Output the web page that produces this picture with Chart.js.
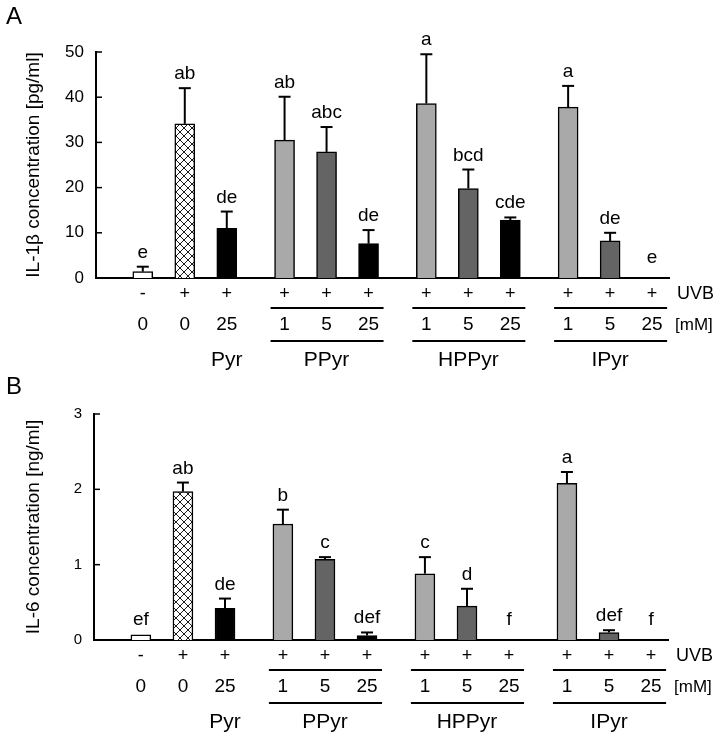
<!DOCTYPE html>
<html>
<head>
<meta charset="utf-8">
<script src="https://cdn.jsdelivr.net/npm/chart.js@4.4.1/dist/chart.umd.min.js"></script>
<style>
  html, body { margin: 0; padding: 0; background: #fff; }
  .panel { position: relative; width: 719px; height: 370px; }
</style>
</head>
<body>
<div class="panel"><canvas id="chartA"></canvas></div>
<div class="panel"><canvas id="chartB"></canvas></div>
<script>
// treatment rows under the axis
const uvb = ["-", "+", "+", "+", "+", "+", "+", "+", "+", "+", "+", "+"];
const doses = ["0", "0", "25", "1", "5", "25", "1", "5", "25", "1", "5", "25"];
const groupNames = ["Pyr", "PPyr", "HPPyr", "IPyr"];
const groupFirst = [2, 3, 6, 9];
const groupLast = [2, 5, 8, 11];

// panel A: IL-1beta (pg/ml)
const il1bMean = [1.4, 34.1, 11.0, 30.5, 27.9, 7.6, 38.6, 19.8, 12.8, 37.8, 8.2, 0];
const il1bSem = [1.1, 7.9, 3.7, 9.6, 5.5, 3.0, 10.9, 4.2, 0.6, 4.7, 1.8, 0];
const il1bLetters = ["e", "ab", "de", "ab", "abc", "de", "a", "bcd", "cde", "a", "de", "e"];
const il1bTicks = [0, 10, 20, 30, 40, 50];

// panel B: IL-6 (ng/ml)
const il6Mean = [0.07, 1.97, 0.42, 1.54, 1.07, 0.06, 0.88, 0.45, 0, 2.08, 0.10, 0];
const il6Sem = [0, 0.12, 0.13, 0.19, 0.03, 0.04, 0.22, 0.23, 0, 0.15, 0.03, 0];
const il6Letters = ["ef", "ab", "de", "b", "c", "def", "c", "d", "f", "a", "def", "f"];
const il6Ticks = [0, 1, 2, 3];

const FONT = "Arial, 'Liberation Sans', sans-serif";
const GROUP_GAP = 1.376; // extra space between treatment groups, in bar steps
Chart.defaults.font.family = FONT;
Chart.defaults.color = "#000";

const barPos = (i) => Math.floor(i / 3) * (2 + GROUP_GAP) + (i % 3);

function crossHatch() {
    const c = document.createElement("canvas");
    c.width = 8;
    c.height = 8;
    const g = c.getContext("2d");
    g.fillStyle = "#fff";
    g.fillRect(0, 0, 8, 8);
    g.strokeStyle = "#000";
    g.lineWidth = 0.9;
    g.beginPath();
    g.moveTo(0, 0); g.lineTo(8, 8);
    g.moveTo(8, 0); g.lineTo(0, 8);
    g.stroke();
    return g.createPattern(c, "repeat");
}

const LIGHT = "#a9a9a9";
const DARK = "#646464";
const barColors = ["#ffffff", crossHatch(), "#000000", LIGHT, DARK, "#000000",
    LIGHT, DARK, "#000000", LIGHT, DARK, "#000000"];

// error bars, letters, inward ticks and the treatment table below the axis
const decor = {
    id: "decor",
    afterDraw(chart, args, o) {
        const { ctx, chartArea } = chart;
        const xs = chart.scales.x;
        const ys = chart.scales.y;
        const meta = chart.getDatasetMeta(0);
        const axisY = chartArea.bottom;
        const line = (x1, y1, x2, y2) => {
            ctx.beginPath();
            ctx.moveTo(x1, y1);
            ctx.lineTo(x2, y2);
            ctx.stroke();
        };
        ctx.save();
        ctx.strokeStyle = "#000";
        ctx.fillStyle = "#000";

        // ticks pointing inward
        ctx.lineWidth = 1.5;
        o.ticks.forEach((t) => {
            const py = ys.getPixelForValue(t);
            line(chartArea.left, py, chartArea.left + 6, py);
        });

        // error bars (upper only)
        ctx.lineWidth = 2;
        meta.data.forEach((bar, i) => {
            if (!o.sem[i]) return;
            const y0 = ys.getPixelForValue(o.mean[i]);
            const y1 = ys.getPixelForValue(o.mean[i] + o.sem[i]);
            line(bar.x, y0, bar.x, y1);
            line(bar.x - 6, y1, bar.x + 6, y1);
        });

        // significance letters
        ctx.font = "19px " + FONT;
        ctx.textAlign = "center";
        ctx.textBaseline = "alphabetic";
        meta.data.forEach((bar, i) => {
            const top = ys.getPixelForValue(o.mean[i] + o.sem[i]);
            const by = Math.min(top - 9, axisY - 15);
            ctx.fillText(o.letters[i], bar.x, by);
        });

        // treatment table
        ctx.textBaseline = "middle";
        ctx.font = "18px " + FONT;
        uvb.forEach((s, i) => ctx.fillText(s, xs.getPixelForValue(barPos(i)), axisY + 16));
        ctx.font = "19px " + FONT;
        doses.forEach((s, i) => ctx.fillText(s, xs.getPixelForValue(barPos(i)), axisY + 47));
        ctx.font = "21px " + FONT;
        ctx.lineWidth = 2;
        groupNames.forEach((name, g) => {
            const a = xs.getPixelForValue(barPos(groupFirst[g]));
            const b = xs.getPixelForValue(barPos(groupLast[g]));
            ctx.fillText(name, (a + b) / 2, axisY + 82);
            if (groupLast[g] > groupFirst[g]) {
                line(a - 14, axisY + 30, b + 15, axisY + 30);
                line(a - 14, axisY + 63, b + 15, axisY + 63);
            }
        });
        ctx.textAlign = "left";
        ctx.font = "18px " + FONT;
        ctx.fillText("UVB", chartArea.right + 8, axisY + 16);
        ctx.font = "17px " + FONT;
        ctx.fillText("[mM]", chartArea.right + 6, axisY + 47);

        // panel letter
        ctx.font = "24px " + FONT;
        ctx.textBaseline = "alphabetic";
        ctx.fillText(o.panel, 6, 24);
        ctx.restore();
    },
};

const makeChart = (id, cfg) => {
    const ctx = document.getElementById(id).getContext("2d");
    return new Chart(ctx, {
        type: "bar",
        data: {
            datasets: [{
                data: cfg.mean.map((v, i) => ({ x: barPos(i), y: v })),
                backgroundColor: barColors,
                borderColor: "#000",
                borderWidth: 1.5,
                barThickness: 20,
            }],
        },
        options: {
            responsive: true,
            maintainAspectRatio: false,
            animation: false,
            events: [],
            layout: { padding: { top: cfg.top, right: 719 - cfg.right, left: 0, bottom: 0 } },
            plugins: {
                legend: { display: false },
                tooltip: { enabled: false },
                decor: {
                    mean: cfg.mean,
                    sem: cfg.sem,
                    letters: cfg.letters,
                    ticks: cfg.ticks,
                    panel: cfg.panel,
                },
            },
            scales: {
                x: {
                    type: "linear",
                    offset: false,
                    min: -1.114,
                    max: 12.53,
                    ticks: { display: false },
                    grid: { display: false, offset: false },
                    border: { color: "#000", width: 2 },
                    afterFit: (s) => { s.height = 370 - cfg.bottom; },
                },
                y: {
                    min: 0,
                    max: cfg.ticks[cfg.ticks.length - 1],
                    afterBuildTicks: (s) => { s.ticks = cfg.ticks.map((v) => ({ value: v })); },
                    ticks: { padding: 12, font: { size: cfg.tickSize }, color: "#000" },
                    grid: { display: false, drawTicks: false },
                    border: { color: "#000", width: 2 },
                    title: {
                        display: true,
                        text: cfg.title,
                        font: { size: 19 },
                        color: "#000",
                        padding: { top: 22, bottom: 0 },
                    },
                    afterFit: (s) => { s.width = cfg.left; },
                },
            },
        },
        plugins: [decor],
    });
};

makeChart("chartA", {
    mean: il1bMean, sem: il1bSem, letters: il1bLetters, ticks: il1bTicks,
    title: "IL-1β concentration [pg/ml]", panel: "A",
    top: 52, bottom: 278, left: 96, right: 669, tickSize: 17,
});
makeChart("chartB", {
    mean: il6Mean, sem: il6Sem, letters: il6Letters, ticks: il6Ticks,
    title: "IL-6 concentration [ng/ml]", panel: "B",
    top: 44, bottom: 270, left: 94, right: 668, tickSize: 15,
});
</script>
</body>
</html>
